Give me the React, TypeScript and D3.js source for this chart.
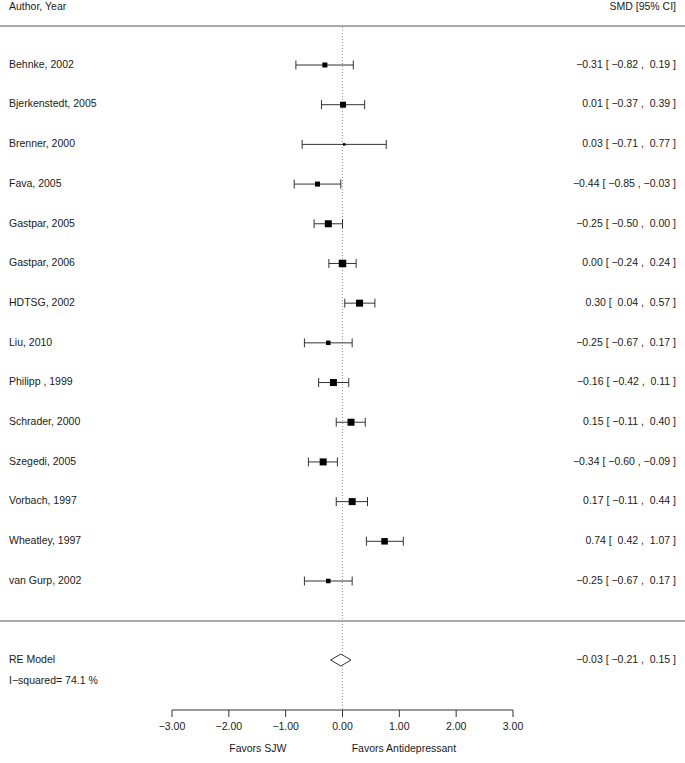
import React from "react";
import * as d3 from "d3";

const authors = [
  "Behnke, 2002",
  "Bjerkenstedt, 2005",
  "Brenner, 2000",
  "Fava, 2005",
  "Gastpar, 2005",
  "Gastpar, 2006",
  "HDTSG, 2002",
  "Liu, 2010",
  "Philipp , 1999",
  "Schrader, 2000",
  "Szegedi, 2005",
  "Vorbach, 1997",
  "Wheatley, 1997",
  "van Gurp, 2002",
];
const estimates = [-0.31, 0.01, 0.03, -0.44, -0.25, 0.0, 0.3, -0.25, -0.16, 0.15, -0.34, 0.17, 0.74, -0.25];
const lowers = [-0.82, -0.37, -0.71, -0.85, -0.5, -0.24, 0.04, -0.67, -0.42, -0.11, -0.6, -0.11, 0.42, -0.67];
const uppers = [0.19, 0.39, 0.77, -0.03, 0.0, 0.24, 0.57, 0.17, 0.11, 0.4, -0.09, 0.44, 1.07, 0.17];
const weights = [5, 6, 2.5, 5, 7, 7.5, 7, 4.5, 7, 7, 7, 7, 6.5, 4.5];

const reEstimate = -0.03;
const reLower = -0.21;
const reUpper = 0.15;
const iSquared = "74.1";

const axisTicks = [-3, -2, -1, 0, 1, 2, 3];

const W = 685;
const H = 763;

const fmt = (v: number) => {
  const s = Math.abs(v).toFixed(2);
  return v < 0 ? "\u2212" + s : " " + s;
};
const ci = (e: number, l: number, u: number) => `${fmt(e).trim()} [ ${fmt(l)} , ${fmt(u)} ]`;

export default function App() {
  const x = d3.scaleLinear().domain([-3, 3]).range([172, 513]);
  const y = d3.scaleLinear().domain([0, authors.length - 1]).range([65, 581]);
  const font = "'Liberation Sans', Arial, Helvetica, sans-serif";
  const fs = 10.5;
  const headerY = 26;
  const sepY = 621;
  const reY = 660;
  const axisY = 710;
  const textColor = "#1a1a1a";
  const lineColor = "#333";

  return (
    <svg
      width={W}
      height={H}
      style={{ position: "absolute", left: 0, top: 0, background: "#fff" }}
      fontFamily={font}
      fontSize={fs}
    >
      <rect width={W} height={H} fill="#fff" />
      {/* header */}
      <text x={9} y={7} dominantBaseline="middle" fill={textColor}>Author, Year</text>
      <text x={676} y={7} dominantBaseline="middle" textAnchor="end" fill={textColor}>SMD [95% CI]</text>
      <line x1={0} x2={W} y1={headerY} y2={headerY} stroke="#555" strokeWidth={1} />
      <line x1={0} x2={W} y1={sepY} y2={sepY} stroke="#555" strokeWidth={1} />
      {/* zero reference */}
      <line x1={x(0)} x2={x(0)} y1={headerY + 1} y2={axisY} stroke="#999" strokeWidth={1} strokeDasharray="1,2" />

      {authors.map((a, i) => {
        const yy = y(i);
        const s = weights[i];
        return (
          <g key={a}>
            <text x={9} y={yy} dominantBaseline="middle" fill={textColor}>{a}</text>
            <line x1={x(lowers[i])} x2={x(uppers[i])} y1={yy} y2={yy} stroke={lineColor} strokeWidth={1} />
            <line x1={x(lowers[i])} x2={x(lowers[i])} y1={yy - 4.5} y2={yy + 4.5} stroke={lineColor} strokeWidth={1} />
            <line x1={x(uppers[i])} x2={x(uppers[i])} y1={yy - 4.5} y2={yy + 4.5} stroke={lineColor} strokeWidth={1} />
            <rect x={x(estimates[i]) - s / 2} y={yy - s / 2} width={s} height={s} fill="#000" />
            <text
              x={676}
              y={yy}
              dominantBaseline="middle"
              textAnchor="end"
              fill={textColor}
              style={{ whiteSpace: "pre" }}
            >
              {ci(estimates[i], lowers[i], uppers[i])}
            </text>
          </g>
        );
      })}

      {/* RE model */}
      <text x={9} y={reY} dominantBaseline="middle" fill={textColor}>RE Model</text>
      <text x={9} y={681} dominantBaseline="middle" fill={textColor}>{`I\u2212squared= ${iSquared} %`}</text>
      <path
        d={`M${x(reLower)},${reY} L${x(reEstimate)},${reY - 6} L${x(reUpper)},${reY} L${x(reEstimate)},${reY + 6} Z`}
        fill="#fff"
        stroke={lineColor}
        strokeWidth={1}
      />
      <text x={676} y={reY} dominantBaseline="middle" textAnchor="end" fill={textColor} style={{ whiteSpace: "pre" }}>
        {ci(reEstimate, reLower, reUpper)}
      </text>

      {/* axis */}
      <line x1={x(-3)} x2={x(3)} y1={axisY} y2={axisY} stroke={lineColor} strokeWidth={1} />
      {axisTicks.map((t) => (
        <g key={t}>
          <line x1={x(t)} x2={x(t)} y1={axisY} y2={axisY + 7} stroke={lineColor} strokeWidth={1} />
          <text x={x(t)} y={axisY + 17} textAnchor="middle" dominantBaseline="middle" fill={textColor}>
            {(t < 0 ? "\u2212" : "") + Math.abs(t).toFixed(2)}
          </text>
        </g>
      ))}
      <text x={x(-1.49)} y={749} textAnchor="middle" dominantBaseline="middle" fill={textColor}>Favors SJW</text>
      <text x={x(1.08)} y={749} textAnchor="middle" dominantBaseline="middle" fill={textColor}>Favors Antidepressant</text>
    </svg>
  );
}
